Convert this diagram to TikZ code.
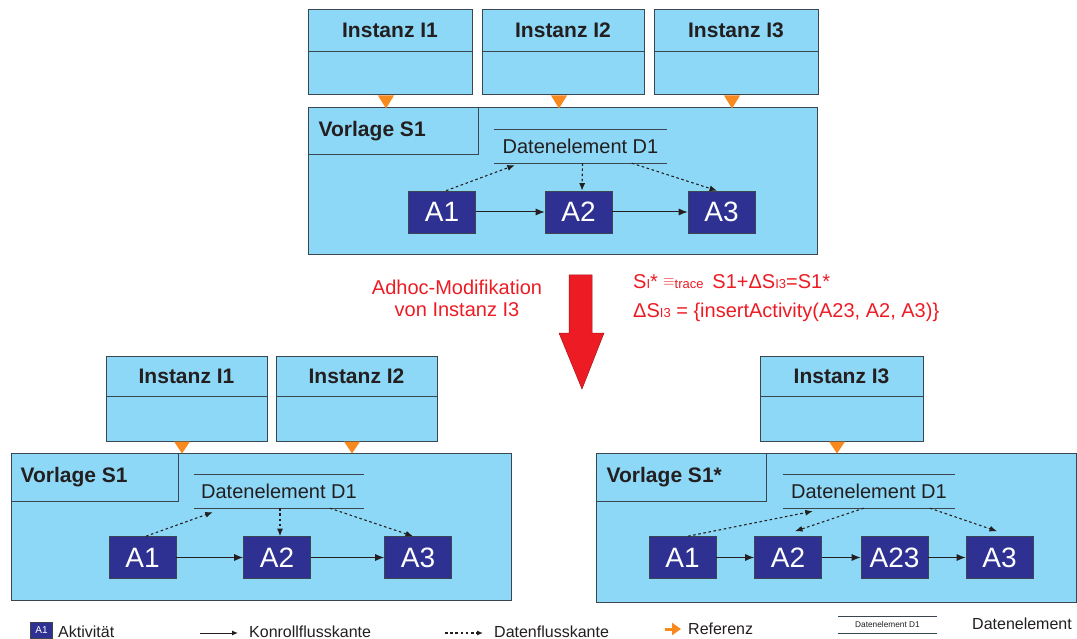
\documentclass[tikz,border=0pt]{standalone}
\usepackage{fontspec}
\setmainfont{Liberation Sans}
\usetikzlibrary{arrows.meta,calc}

\definecolor{lightfill}{HTML}{8DD8F6}
\definecolor{framegray}{HTML}{3B4650}
\definecolor{actblue}{HTML}{2E3192}
\definecolor{refpoint}{HTML}{F7891F}
\definecolor{modred}{HTML}{ED1C24}
\definecolor{inkgray}{HTML}{231F20}

\newcommand{\fsz}[1]{\fontsize{#1}{#1}\selectfont}
\newcommand{\smallidx}[1]{{\fsz{13}#1}}

\begin{document}
\begin{tikzpicture}[x=1pt,y=-1pt,
  panel/.style={draw=framegray, fill=lightfill, line width=1pt, inner sep=0pt, rectangle},
  instbox/.style={panel, minimum height=85pt},
  titletext/.style={font=\bfseries\fsz{21}, text=inkgray, inner sep=0pt},
  titlebox/.style={panel, anchor=north west, minimum height=47pt},
  act/.style={draw=framegray, line width=0.6pt, fill=actblue, text=white, font=\fsz{28},
    minimum width=67pt, minimum height=42pt, inner sep=0pt},
  dataelem/.style={minimum height=33pt, inner sep=0pt, font=\fsz{20}, text=inkgray},
  dataline/.style={draw=framegray, line width=1pt},
  flow/.style={-{Latex[length=9pt,width=7pt]}, line width=1pt, draw=inkgray},
  dataflow/.style={-{Latex[length=7.5pt,width=6pt]}, line width=1.1pt, draw=inkgray,
    dash pattern=on 2.6pt off 2.6pt},
  refmark/.style={fill=refpoint, draw=none},
  redtext/.style={text=modred, font=\fsz{20}, inner sep=0pt},
  legendtext/.style={text=inkgray, font=\fsz{16}, inner sep=0pt, anchor=base west}
]
\useasboundingbox (0,0) rectangle (1077,639);
\fill[white] (0,0) rectangle (1077,639);

% ---------- upper part: template S1 with instances I1, I2, I3 ----------
\node[instbox, minimum width=164pt] (ti1) at (390,52.5) {};
\node[instbox, minimum width=162pt] (ti2) at (563,52.5) {};
\node[instbox, minimum width=164pt] (ti3) at (736,52.5) {};
\foreach \n/\t in {ti1/Instanz I1, ti2/Instanz I2, ti3/Instanz I3}{
  \draw[dataline] ([yshift=-42pt]\n.north west) -- ([yshift=-42pt]\n.north east);
  \node[titletext] at ([yshift=-21pt]\n.north) {\t};
}

\node[panel, minimum width=509pt, minimum height=147pt] (tv) at (562.5,181.5) {};
\node[titlebox, minimum width=170pt] (tvt) at (tv.north west) {};
\node[titletext, anchor=west] at ([xshift=11pt]tvt.west) {Vorlage S1};

\foreach \n in {ti1,ti2,ti3}{
  \fill[refmark] ([xshift=-12pt]\n.south) -- ([xshift=4pt]\n.south)
    -- ([xshift=-4pt,yshift=-13pt]\n.south) -- cycle;
}

\node[dataelem, minimum width=173pt] (td) at (580.5,146.5) {Datenelement D1};
\draw[dataline] (td.north west) -- (td.north east);
\draw[dataline] (td.south west) -- (td.south east);

\node[act] (ta1) at (442,212) {A1};
\node[act] (ta2) at (578.5,212) {A2};
\node[act] (ta3) at (721.5,212) {A3};
\draw[flow] (ta1) -- (ta2);
\draw[flow] (ta2) -- (ta3);
\draw[dataflow] ([xshift=4pt]ta1.north) -- ([xshift=21pt,yshift=-2pt]td.south west);
\draw[dataflow] ([xshift=2pt]td.south) -- ([xshift=3.5pt]ta2.north);
\draw[dataflow] ([xshift=138pt]td.south west) -- ([xshift=-4.5pt]ta3.north);

% ---------- change description ----------
\node[redtext, align=center] (adhoc) at (457,298)
  {Adhoc-Modifikation\\[2pt]von Instanz I3};
\draw[draw=modred!70!black, line width=0.5pt, fill=modred]
  (569,275) -- (592,275) -- (592,333) -- (604,333) -- (582,389)
  -- (559,333) -- (569,333) -- cycle;
\node[redtext, anchor=base west] (f1) at (633,289)
  {S\smallidx{I}* \raisebox{3pt}{\fsz{14}$\equiv$}\smallidx{trace}\, S1+ΔS\smallidx{I3}=S1*};
\node[redtext, anchor=base west] (f2) at (633,318)
  {ΔS\smallidx{I3} = \{insertActivity(A23, A2, A3)\}};

% ---------- lower left: template S1 with instances I1, I2 ----------
\node[instbox, minimum width=161pt] (li1) at (186.5,398.5) {};
\node[instbox, minimum width=161pt] (li2) at (356.5,398.5) {};
\foreach \n/\t in {li1/Instanz I1, li2/Instanz I2}{
  \draw[dataline] ([yshift=-41pt]\n.north west) -- ([yshift=-41pt]\n.north east);
  \node[titletext] at ([yshift=-21pt]\n.north) {\t};
}

\node[panel, minimum width=500pt, minimum height=147pt] (lv) at (261,526.5) {};
\node[titlebox, minimum width=167pt, minimum height=48pt] (lvt) at (lv.north west) {};
\node[titletext, anchor=west] at ([xshift=10pt]lvt.west) {Vorlage S1};

\foreach \n in {li1,li2}{
  \fill[refmark] ([xshift=-12.5pt]\n.south) -- ([xshift=3.5pt]\n.south)
    -- ([xshift=-4.5pt,yshift=-12pt]\n.south) -- cycle;
}

\node[dataelem, minimum width=170pt] (ld) at (279,491.5) {Datenelement D1};
\draw[dataline] (ld.north west) -- (ld.north east);
\draw[dataline] (ld.south west) -- (ld.south east);

\node[act] (la1) at (142.5,557.5) {A1};
\node[act] (la2) at (277,557.5) {A2};
\node[act] (la3) at (418,557.5) {A3};
\draw[flow] (la1) -- (la2);
\draw[flow] (la2) -- (la3);
\draw[dataflow] ([xshift=3.5pt]la1.north) -- ([xshift=19pt,yshift=-4pt]ld.south west);
\draw[dataflow] ([xshift=1pt]ld.south) -- ([xshift=3pt]la2.north);
\draw[dataflow] ([xshift=136pt]ld.south west) -- ([xshift=-5pt]la3.north);

% ---------- lower right: modified template S1* with instance I3 ----------
\node[instbox, minimum width=163pt] (ri3) at (841.5,398.5) {};
\draw[dataline] ([yshift=-41pt]ri3.north west) -- ([yshift=-41pt]ri3.north east);
\node[titletext] at ([yshift=-21pt]ri3.north) {Instanz I3};

\node[panel, minimum width=480pt, minimum height=149pt] (rv) at (836,527.5) {};
\node[titlebox, minimum width=170pt, minimum height=48pt] (rvt) at (rv.north west) {};
\node[titletext, anchor=west] at ([xshift=11pt]rvt.west) {Vorlage S1*};

\fill[refmark] ([xshift=-12.5pt]ri3.south) -- ([xshift=3.5pt]ri3.south)
  -- ([xshift=-4.5pt,yshift=-12pt]ri3.south) -- cycle;

\node[dataelem, minimum width=172pt] (rd) at (869,491.5) {Datenelement D1};
\draw[dataline] (rd.north west) -- (rd.north east);
\draw[dataline] (rd.south west) -- (rd.south east);

\node[act] (ra1) at (682.5,557.5) {A1};
\node[act] (ra2) at (788,557.5) {A2};
\node[act] (ra23) at (894.5,557.5) {A23};
\node[act] (ra3) at (999.5,557.5) {A3};
\draw[flow] (ra1) -- (ra2);
\draw[flow] (ra2) -- (ra23);
\draw[flow] (ra23) -- (ra3);
\draw[dataflow] ([xshift=5.5pt]ra1.north) -- ([xshift=30pt,yshift=-3pt]rd.south west);
\draw[dataflow] ([xshift=81pt]rd.south west) -- ([xshift=7pt,yshift=5pt]ra2.north);
\draw[dataflow] ([xshift=147pt]rd.south west) -- ([xshift=-2.5pt,yshift=5pt]ra3.north);

% ---------- legend ----------
\node[act, minimum width=22pt, minimum height=16pt, font=\fsz{10}] (lgA) at (41.5,630) {A1};
\node[legendtext] (lgAt) at (58,637) {Aktivität};

\coordinate (lgk1) at (200,633);
\coordinate (lgk2) at (238,633);
\draw[flow, -{Latex[length=6pt,width=5pt]}] (lgk1) -- (lgk2);
\node[legendtext] (lgKt) at (249,637) {Konrollflusskante};

\coordinate (lgd1) at (445,633);
\coordinate (lgd2) at (483,633);
\draw[dataflow, -{Latex[length=6pt,width=5pt]}] (lgd1) -- (lgd2);
\node[legendtext] (lgDt) at (494,637) {Datenflusskante};

\coordinate (lgr1) at (665,629);
\coordinate (lgr2) at (681,629);
\draw[refpoint, line width=3pt, -{Triangle[length=9pt,width=12pt]}] (lgr1) -- (lgr2);
\node[legendtext] (lgRt) at (688,634) {Referenz};

\node[dataelem, minimum width=99pt, minimum height=16pt, font=\fsz{8.3}] (lgde) at (887.5,625) {Datenelement D1};
\draw[dataline, line width=0.8pt] (lgde.north west) -- (lgde.north east);
\draw[dataline, line width=0.8pt] (lgde.south west) -- (lgde.south east);
\node[legendtext] (lgEt) at (972,629) {Datenelement};
\end{tikzpicture}
\end{document}
